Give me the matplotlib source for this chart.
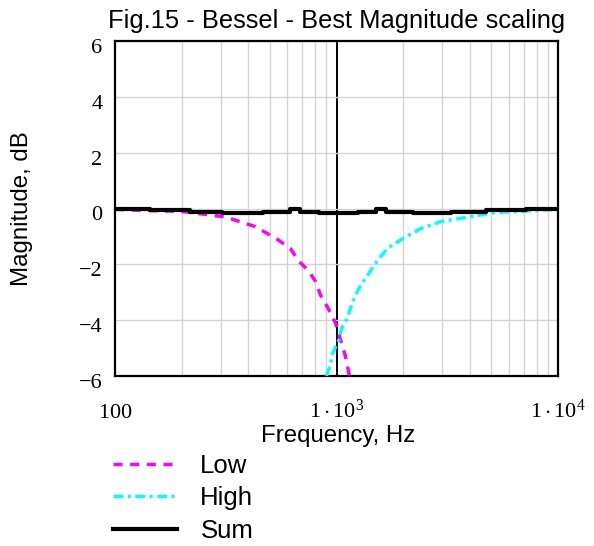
import matplotlib
matplotlib.use("Agg")
import matplotlib.pyplot as plt
import matplotlib.transforms as mtransforms
import numpy as np

# ---- data ----
low_freq = [100, 134, 197, 314, 430, 540, 620, 673, 747, 803, 847, 920, 990, 1043, 1098, 1145]
low_db = [-0.03, -0.07, -0.1, -0.3, -0.65, -1.1, -1.44, -1.87, -2.23, -2.6, -3.1, -3.6, -4.1, -4.7, -5.3, -6.0]

high_freq = [901, 939, 959, 1021, 1054, 1122, 1181, 1259, 1396, 1549, 1718, 1990, 2400, 2958, 3835, 5240, 7550, 10000]
high_db = [-6.0, -5.6, -5.2, -4.75, -4.3, -3.9, -3.35, -2.88, -2.34, -1.8, -1.4, -1.08, -0.72, -0.47, -0.32, -0.14, -0.08, -0.03]

sum_freq = [100, 144, 218, 305, 467, 619, 687, 830, 1245, 1501, 1667, 2208, 3281, 4722, 7163, 10000]
sum_db = [0.0, -0.06, -0.11, -0.16, -0.11, -0.03, -0.11, -0.16, -0.11, -0.03, -0.11, -0.16, -0.11, -0.05, 0.0, 0.0]

x_ticks = [100, 1000, 10000]
x_tick_labels = [r"$\mathrm{100}$", r"$\mathrm{1\cdot10^{3}}$", r"$\mathrm{1\cdot10^{4}}$"]
x_minor = [200, 300, 400, 500, 600, 700, 800, 900, 2000, 3000, 4000, 5000, 6000, 7000, 8000, 9000]
y_ticks = [-6, -4, -2, 0, 2, 4, 6]
y_tick_labels = ["\u22126", "\u22124", "\u22122", "0", "2", "4", "6"]

title = "Fig.15 - Bessel - Best Magnitude scaling"
series_names = ["Low", "High", "Sum"]

plt.rcParams["mathtext.fontset"] = "custom"
plt.rcParams["mathtext.rm"] = "Liberation Serif"
plt.rcParams["mathtext.it"] = "Liberation Serif:italic"
plt.rcParams["font.family"] = ["Liberation Sans", "DejaVu Sans"]

W, H = 594, 546
fig = plt.figure(figsize=(W / 100, H / 100), dpi=100)
L, R, T, B = 115, 558, 41, 376
ax = fig.add_axes([L / W, 1 - B / H, (R - L) / W, (B - T) / H])

ax.set_xscale("log")
ax.set_xlim(100, 10000)
ax.set_ylim(-6, 6)

lw = 2.5
ax.plot(low_freq, low_db, color="#ff00ff", lw=lw, dashes=(2.6, 2.2), dash_capstyle="butt",
        label=series_names[0], zorder=3)
ax.plot(high_freq, high_db, color="#00ffff", lw=lw, dashes=(2.8, 1.3, 0.9, 1.3), dash_capstyle="butt",
        label=series_names[1], zorder=3)
ax.plot(sum_freq, sum_db, color="black", lw=3.0, drawstyle="steps-post", label=series_names[2], zorder=4)

# grid
ax.set_xticks(x_minor, minor=True)
ax.set_xticks(x_ticks)
ax.set_xticklabels(x_tick_labels, fontsize=16)
ax.set_yticks(y_ticks)
ax.set_yticklabels(y_tick_labels, fontsize=16, family="Liberation Serif")
ax.xaxis.set_minor_formatter(matplotlib.ticker.NullFormatter())
ax.grid(True, which="minor", axis="x", color="#d4d4d4", lw=1.0)
ax.grid(True, which="major", axis="y", color="#d4d4d4", lw=1.0)
ax.grid(True, which="major", axis="x", color="black", lw=1.4)
ax.tick_params(which="both", length=0)
ax.tick_params(axis="x", pad=30)
ax.tick_params(axis="y", pad=9)
for lab in ax.get_xticklabels():
    lab.set_verticalalignment("baseline")
off = mtransforms.ScaledTranslation(0, 2 / 100, fig.dpi_scale_trans)
for lab in ax.get_yticklabels():
    lab.set_verticalalignment("top")
    lab.set_transform(lab.get_transform() + off)

for s in ax.spines.values():
    s.set_linewidth(1.6)
    s.set_color("black")

ax.set_title(title, fontsize=18.4, pad=9.5)
ax.set_xlabel("Frequency, Hz", fontsize=17.3)
ax.xaxis.set_label_coords(0.503, -0.146)
ax.set_ylabel("Magnitude, dB", fontsize=17.3)
ax.yaxis.set_label_coords(-0.185, 0.5)

leg = fig.legend(loc="upper left", bbox_to_anchor=(113 / W, 1 - 454 / H),
                 frameon=False, fontsize=18.5, handlelength=2.5, handletextpad=0.9,
                 labelspacing=0.33, borderpad=0, borderaxespad=0)

fig.savefig("out.png", dpi=100)
